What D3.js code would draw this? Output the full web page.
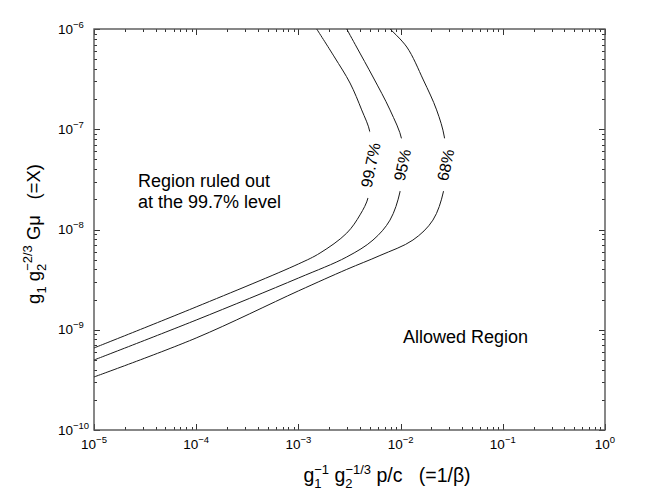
<!DOCTYPE html>
<html>
<head>
<meta charset="utf-8">
<script src="https://cdn.jsdelivr.net/npm/d3@7"></script>
<style>
    body { margin: 0; background: #fff; }
    text { font-family: "Liberation Sans", Arial, Helvetica, sans-serif; fill: #000; }
</style>
</head>
<body>
<div id="chart"></div>
<script>

// data
let xTicks = [1e-5, 1e-4, 1e-3, 1e-2, 1e-1, 1];
let yTicks = [1e-10, 1e-9, 1e-8, 1e-7, 1e-6];
let xExps = ["\u22125", "\u22124", "\u22123", "\u22122", "\u22121", "0"];
let yExps = ["\u221210", "\u22129", "\u22128", "\u22127", "\u22126"];

let curveNames = ["99.7%", "95%", "68%"];

// [p/c, X] pairs
let curve997 = [
    [1e-5, 6.58e-10], [1e-4, 1.69e-9], [1e-3, 4.53e-9], [1.63e-3, 5.83e-9],
    [2.97e-3, 9.2e-9], [4.01e-3, 1.40e-8], [4.83e-3, 2.11e-8], [5.13e-3, 4.4e-8],
    [5.03e-3, 9.2e-8], [4.16e-3, 1.56e-7], [3.2e-3, 2.89e-7], [2.25e-3, 5.26e-7],
    [1.51e-3, 1e-6]
];
let curve95 = [
    [1e-5, 4.99e-10], [1e-4, 1.25e-9], [1e-3, 3.28e-9], [2.97e-3, 5.32e-9],
    [5.37e-3, 7.85e-9], [7.87e-3, 1.24e-8], [9.86e-3, 2.37e-8], [1.05e-2, 4.4e-8],
    [1.03e-2, 7.81e-8], [7.87e-3, 1.56e-7], [5.37e-3, 3.32e-7], [3.71e-3, 6.61e-7],
    [2.97e-3, 1e-6]
];
let curve68 = [
    [1e-5, 3.38e-10], [1e-4, 8.28e-10], [1e-3, 2.44e-9], [2.97e-3, 4.0e-9],
    [6.28e-3, 5.5e-9], [1.32e-2, 7.85e-9], [2.07e-2, 1.24e-8], [2.62e-2, 2.37e-8],
    [2.78e-2, 4.4e-8], [2.68e-2, 8.37e-8], [2.25e-2, 1.56e-7], [1.67e-2, 3.10e-7],
    [1.15e-2, 6.61e-7], [7.87e-3, 1e-6]
];
let curves = [curve997, curve95, curve68];

// margin conventions
let margin = {top: 29, right: 54, bottom: 65, left: 94};
let width = 659 - margin.left - margin.right;
let height = 495 - margin.top - margin.bottom;

let svg = d3.select("#chart").append("svg")
    .attr("width", 659)
    .attr("height", 495);

let g = svg.append("g")
    .attr("transform", "translate(" + margin.left + "," + margin.top + ")");

let x = d3.scaleLog().domain([1e-5, 1]).range([0, width]);
let y = d3.scaleLog().domain([1e-10, 1e-6]).range([height, 0]);

let isMajor = d => Math.abs(Math.log10(d) - Math.round(Math.log10(d))) < 1e-6;

// inward ticks on all four sides
let tickG = g.append("g").attr("stroke", "#333").attr("stroke-width", 1);
x.ticks().forEach(d => {
    let len = isMajor(d) ? 6 : 3;
    let px = Math.round(x(d)) + 0.5;
    tickG.append("line").attr("x1", px).attr("x2", px).attr("y1", height).attr("y2", height - len);
    tickG.append("line").attr("x1", px).attr("x2", px).attr("y1", 0).attr("y2", len);
});
y.ticks().forEach(d => {
    let len = isMajor(d) ? 6 : 3;
    let py = Math.round(y(d)) + 0.5;
    tickG.append("line").attr("y1", py).attr("y2", py).attr("x1", 0).attr("x2", len);
    tickG.append("line").attr("y1", py).attr("y2", py).attr("x1", width).attr("x2", width - len);
});

// frame
g.append("rect")
    .attr("width", width)
    .attr("height", height)
    .attr("fill", "none")
    .attr("stroke", "#555")
    .attr("stroke-width", 1.4);

// tick labels
xTicks.forEach((d, i) => {
    let t = g.append("text")
        .attr("x", x(d))
        .attr("y", height + 19)
        .attr("text-anchor", "middle")
        .style("font-size", "13.5px");
    t.append("tspan").text("10");
    t.append("tspan").attr("dy", -6).style("font-size", "9.5px").text(xExps[i]);
});
yTicks.forEach((d, i) => {
    let t = svg.append("text")
        .attr("x", 58)
        .attr("y", margin.top + y(d) + 4.5)
        .style("font-size", "13.5px");
    t.append("tspan").text("10");
    t.append("tspan").attr("dy", -6).style("font-size", "9.5px").text(yExps[i]);
});

// curves
svg.append("clipPath").attr("id", "plot-clip")
    .append("rect").attr("width", width).attr("height", height);

let line = d3.line()
    .x(d => x(d[0]))
    .y(d => y(d[1]))
    .curve(d3.curveCatmullRom.alpha(0.5));

g.append("g")
    .attr("clip-path", "url(#plot-clip)")
    .selectAll(".contour")
    .data(curves)
    .enter()
    .append("path")
    .attr("class", "contour")
    .attr("fill", "none")
    .attr("stroke", "#1a1a1a")
    .attr("stroke-width", 1)
    .attr("d", line);

// curve labels at the nose of each curve
curves.forEach((c, i) => {
    let nose = c.reduce((a, b) => (b[0] > a[0] ? b : a));
    let lg = g.append("g")
        .attr("transform", "translate(" + (x(nose[0]) - 0.5) + "," + y(nose[1]) + ") rotate(-78)");
    let bg = lg.append("rect").attr("fill", "#fff");
    let t = lg.append("text")
        .attr("text-anchor", "middle")
        .attr("dy", "0.36em")
        .style("font-size", "16px")
        .text(curveNames[i]);
    let w = t.node().getComputedTextLength() + 20;
    bg.attr("x", -w / 2).attr("y", -8).attr("width", w).attr("height", 16);
});

// region annotations
let note = g.append("text")
    .style("font-size", "18px");
note.append("tspan").attr("x", 44).attr("y", 186.7 - margin.top).text("Region ruled out");
note.append("tspan").attr("x", 44).attr("y", 208.3 - margin.top).text("at the 99.7% level");

g.append("text")
    .attr("x", 309)
    .attr("y", 343 - margin.top)
    .style("font-size", "18px")
    .text("Allowed Region");

// axis titles
let xt = svg.append("text")
    .attr("x", 387)
    .attr("y", 482)
    .attr("text-anchor", "middle")
    .style("font-size", "19.5px")
    .style("white-space", "pre");
xt.append("tspan").text("g");
xt.append("tspan").attr("dy", 6).style("font-size", "13px").text("1");
xt.append("tspan").attr("dx", -7.2).attr("dy", -14).style("font-size", "13px").text("\u22121");
xt.append("tspan").attr("dy", 8).text(" g");
xt.append("tspan").attr("dy", 6).style("font-size", "13px").text("2");
xt.append("tspan").attr("dx", -7.2).attr("dy", -14).style("font-size", "13px").text("\u22121/3");
xt.append("tspan").attr("dy", 8).text(" p/c   (=1/\u03b2)");

let yt = svg.append("text")
    .attr("transform", "translate(40,234) rotate(-90)")
    .attr("text-anchor", "middle")
    .style("font-size", "18.5px")
    .style("white-space", "pre");
yt.append("tspan").text("g");
yt.append("tspan").attr("dy", 6).style("font-size", "13px").text("1");
yt.append("tspan").attr("dy", -6).text(" g");
yt.append("tspan").attr("dy", 6).style("font-size", "13px").text("2");
yt.append("tspan").attr("dx", -7.2).attr("dy", -14).style("font-size", "13px").text("\u22122/3");
yt.append("tspan").attr("dy", 8).text(" G\u03bc   (=X)");

</script>
</body>
</html>
